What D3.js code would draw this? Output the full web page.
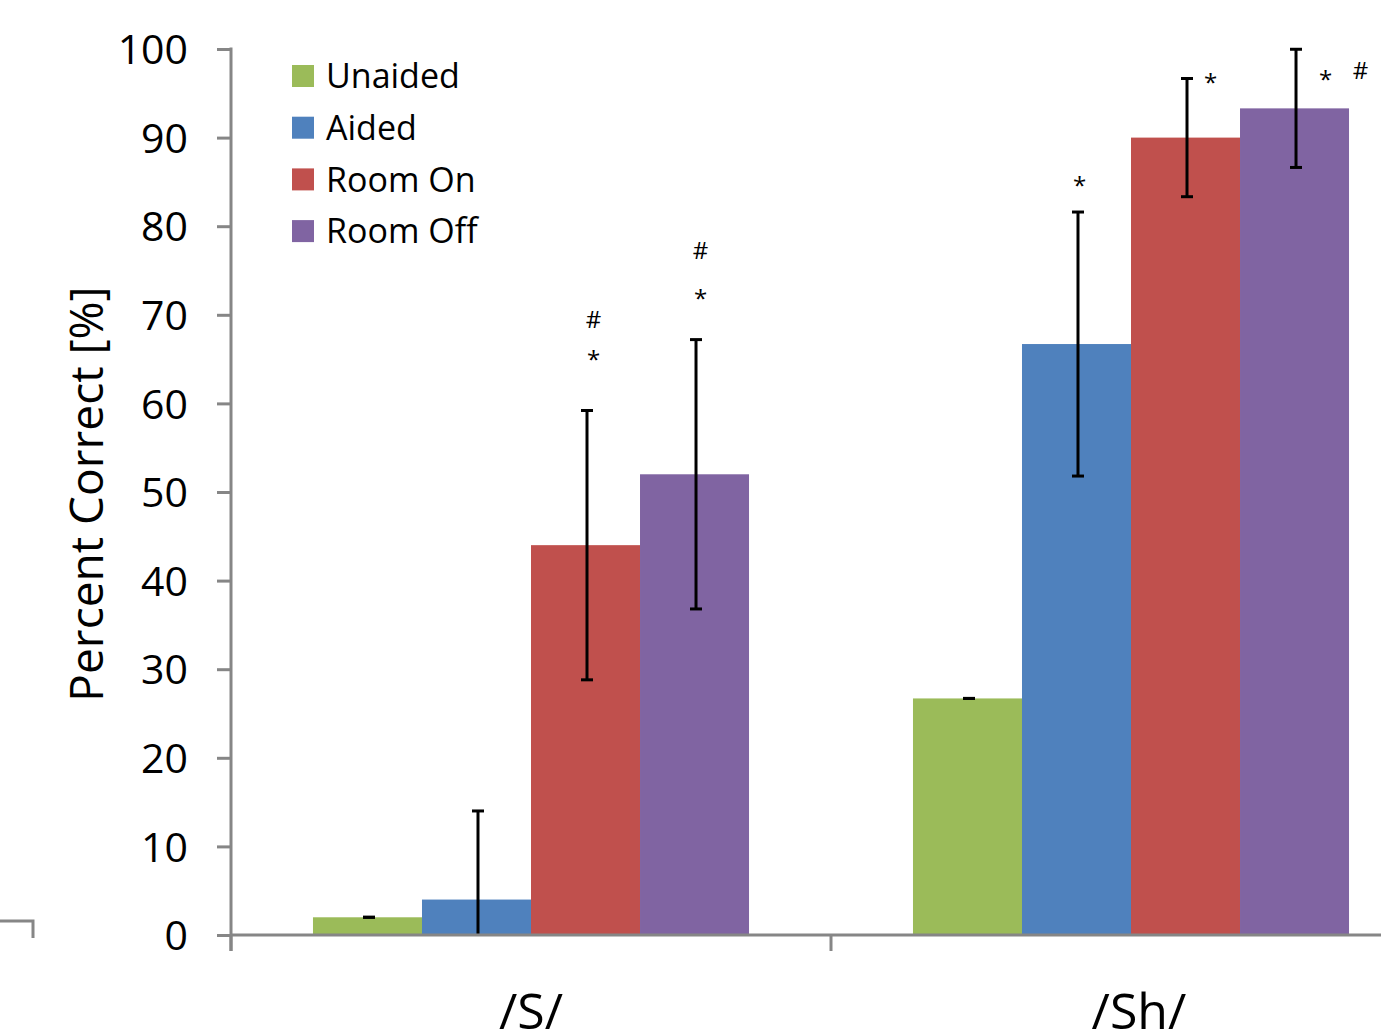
<!DOCTYPE html>
<html>
<head>
<meta charset="utf-8">
<script src="https://cdn.jsdelivr.net/npm/d3@7"></script>
<style>
  body { margin: 0; background: #fff; }
  text { font-family: "Open Sans", sans-serif; fill: #000; }
</style>
</head>
<body>
<svg id="chart" width="1381" height="1031"></svg>
<script>
// data
var categories = ["/S/", "/Sh/"];
var seriesNames = ["Unaided", "Aided", "Room On", "Room Off"];
var seriesColors = ["#9BBB59", "#4F81BD", "#C0504D", "#8064A2"];
var values = [
  [2, 4, 44, 52],        // /S/
  [26.7, 66.7, 90, 93.3] // /Sh/
];
var errors = [
  [0, 10, 15.2, 15.2],
  [0, 14.9, 6.67, 6.67]
];
var yTicks = [0, 10, 20, 30, 40, 50, 60, 70, 80, 90, 100];
// significance marks: category, series, symbol, y value of baseline
var marks = [
  ["/S/", "Room On", "*", 64.0],
  ["/S/", "Room On", "#", 68.5],
  ["/S/", "Room Off", "*", 70.9],
  ["/S/", "Room Off", "#", 76.3],
  ["/Sh/", "Aided", "*", 83.6],
  ["/Sh/", "Room On", "*", 95.3],
  ["/Sh/", "Room Off", "*", 95.6],
  ["/Sh/", "Room Off", "#", 96.6]
];
var markShift = [8, 8, 6, 6, 3, 25, 31, 66];

var svg = d3.select("#chart");
var axisColor = "#868686";

var x0 = d3.scaleBand().domain(categories).range([231, 1431]).padding(0);
var x1 = d3.scaleBand().domain(seriesNames).range([0, x0.bandwidth()])
  .paddingInner(0).paddingOuter(0.752);
var y = d3.scaleLinear().domain([0, 100]).range([935, 49]);

// bars
var groups = svg.append("g").selectAll("g")
  .data(categories)
  .join("g")
  .attr("transform", function(d) { return "translate(" + x0(d) + ",0)"; });

groups.selectAll("rect")
  .data(function(d, i) {
    return seriesNames.map(function(s, k) {
      return { s: s, v: values[i][k], e: errors[i][k], color: seriesColors[k] };
    });
  })
  .join("rect")
  .attr("x", function(d) { return x1(d.s); })
  .attr("width", x1.bandwidth())
  .attr("y", function(d) { return y(d.v); })
  .attr("height", function(d) { return y(0) - y(d.v); })
  .attr("fill", function(d) { return d.color; });

// error bars
var eb = groups.selectAll("g.err")
  .data(function(d, i) {
    return seriesNames.map(function(s, k) {
      return { s: s, v: values[i][k], e: errors[i][k] };
    });
  })
  .join("g")
  .attr("class", "err")
  .attr("stroke", "#000")
  .attr("stroke-width", 3);

function cx(d) { return x1(d.s) + x1.bandwidth() / 2 + 1.5; }
function lo(d) { return Math.max(0, d.v - d.e); }

eb.append("line")
  .attr("x1", cx).attr("x2", cx)
  .attr("y1", function(d) { return y(d.v + d.e); })
  .attr("y2", function(d) { return y(lo(d)); });
eb.append("line")
  .attr("x1", function(d) { return cx(d) - 6; })
  .attr("x2", function(d) { return cx(d) + 6; })
  .attr("y1", function(d) { return y(d.v + d.e); })
  .attr("y2", function(d) { return y(d.v + d.e); });
eb.filter(function(d) { return d.v - d.e > 0; })
  .append("line")
  .attr("x1", function(d) { return cx(d) - 6; })
  .attr("x2", function(d) { return cx(d) + 6; })
  .attr("y1", function(d) { return y(lo(d)); })
  .attr("y2", function(d) { return y(lo(d)); });

// significance marks
svg.append("g").selectAll("text")
  .data(marks)
  .join("text")
  .attr("x", function(d, i) {
    return x0(d[0]) + x1(d[1]) + x1.bandwidth() / 2 + markShift[i];
  })
  .attr("y", function(d) { return y(d[3]); })
  .attr("text-anchor", "middle")
  .style("font-size", "24px")
  .text(function(d) { return d[2]; });

// y axis
var yAxis = svg.append("g")
  .attr("transform", "translate(231,0)")
  .call(d3.axisLeft(y).tickValues(yTicks).tickSize(14).tickPadding(29).tickSizeOuter(0));
yAxis.select(".domain").remove();
yAxis.selectAll(".tick line").attr("stroke", axisColor).attr("stroke-width", 3);
yAxis.selectAll(".tick text")
  .style("font-size", "41px")
  .style("font-family", "'Open Sans', sans-serif")
  .attr("dy", "0.36em");
yAxis.append("line")
  .attr("x1", 0).attr("x2", 0)
  .attr("y1", y(100) - 1.5).attr("y2", 951)
  .attr("stroke", axisColor).attr("stroke-width", 3);

// x axis
var xAxis = svg.append("g").attr("transform", "translate(0," + y(0) + ")");
xAxis.append("line")
  .attr("x1", 231).attr("x2", 1381)
  .attr("stroke", axisColor).attr("stroke-width", 3);
xAxis.selectAll("line.tk")
  .data(categories)
  .join("line")
  .attr("class", "tk")
  .attr("x1", function(d) { return x0(d); })
  .attr("x2", function(d) { return x0(d); })
  .attr("y1", 0).attr("y2", 16)
  .attr("stroke", axisColor).attr("stroke-width", 3);
xAxis.selectAll("text")
  .data(categories)
  .join("text")
  .attr("x", function(d) { return x0(d) + x0.bandwidth() / 2 + (d === "/Sh/" ? 8 : 0); })
  .attr("y", 94)
  .attr("text-anchor", "middle")
  .style("font-size", "50px")
  .text(function(d) { return d; });

// stray corner line at the left edge
svg.append("path")
  .attr("d", "M0,921H33V938")
  .attr("fill", "none")
  .attr("stroke", axisColor)
  .attr("stroke-width", 3);

// y axis title
svg.append("text")
  .attr("transform", "translate(103,494) rotate(-90)")
  .attr("text-anchor", "middle")
  .style("font-size", "46px")
  .text("Percent Correct [%]");

// legend
var legend = svg.append("g").selectAll("g")
  .data(seriesNames)
  .join("g")
  .attr("transform", function(d, i) { return "translate(292," + (65 + i * 51.7) + ")"; });
legend.append("rect")
  .attr("width", 22).attr("height", 22)
  .attr("fill", function(d, i) { return seriesColors[i]; });
legend.append("text")
  .attr("x", 34).attr("y", 11)
  .attr("dy", "0.36em")
  .style("font-size", "34px")
  .text(function(d) { return d; });
</script>
</body>
</html>
